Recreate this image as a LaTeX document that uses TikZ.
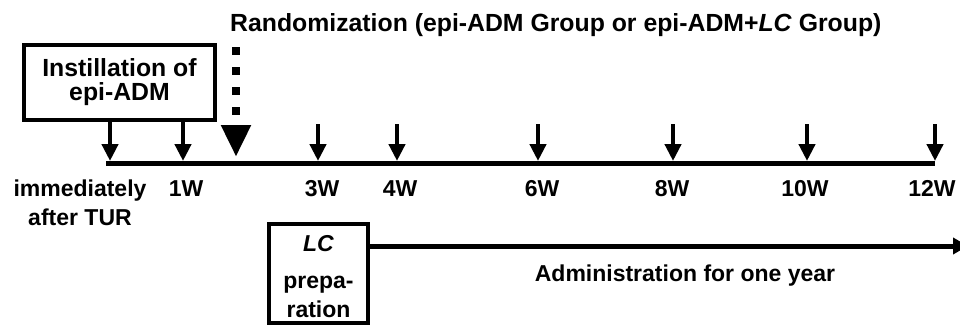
\documentclass[tikz,border=0pt]{standalone}
\usepackage{fontspec}
\setmainfont{Liberation Sans}
\usetikzlibrary{arrows.meta,positioning,calc}

\newcommand\lblfont{\fontsize{23}{25}\selectfont\bfseries}
\newcommand\bigfont{\fontsize{24.8}{24.5}\selectfont\bfseries}
\tikzset{
  lbl/.style={font=\lblfont, inner sep=0pt, align=center},
  boxnode/.style={draw, line width=4pt, lbl},
  tick/.style={line width=4.5pt, -{Triangle[width=16pt,length=17pt]}},
  randarrow/.style={line width=8pt, dash pattern=on 8pt off 12pt,
                    -{Triangle[width=28pt,length=32pt]}},
  timeline/.style={line width=5pt},
  longarrow/.style={line width=5pt, -{Triangle[width=16pt,length=15pt]}}
}

\begin{document}
\begin{tikzpicture}[x=1pt,y=-1pt]
  \useasboundingbox (0,0) rectangle (960,327);

  % title and randomisation marker
  \node[lbl, anchor=base west, font=\bigfont] (rand) at (230,31)
    {Randomization (epi-ADM Group or epi-ADM+\textit{LC} Group)};
  \coordinate (rd0) at (236,47);
  \coordinate (rd1) at (236,157);
  \draw[randarrow] (rd0) -- (rd1);

  % instillation box
  \node[boxnode, font=\bigfont, minimum width=191pt, minimum height=75pt] (instil) at (119.5,82)
    {Instillation of\\epi-ADM};

  % timeline
  \coordinate (tl0) at (106,163);
  \coordinate (tl1) at (935,163);
  \draw[timeline] (tl0) -- (tl1);

  % ticks on the timeline
  \coordinate (t0) at (110,161);
  \coordinate (t1) at (183,161);
  \coordinate (t3) at (318,161);
  \coordinate (t4) at (397,161);
  \coordinate (t6) at (538,161);
  \coordinate (t8) at (673,161);
  \coordinate (t10) at (807,161);
  \coordinate (t12) at (935,161);
  \draw[tick] (instil.south -| t0) -- (t0);
  \draw[tick] (instil.south -| t1) -- (t1);
  \draw[tick] ($(t3)+(0,-37)$) -- (t3);
  \draw[tick] ($(t4)+(0,-37)$) -- (t4);
  \draw[tick] ($(t6)+(0,-37)$) -- (t6);
  \draw[tick] ($(t8)+(0,-37)$) -- (t8);
  \draw[tick] ($(t10)+(0,-37)$) -- (t10);
  \draw[tick] ($(t12)+(0,-37)$) -- (t12);

  % week labels
  \node[lbl, anchor=base, font=\fontsize{23}{29.5}\selectfont\bfseries] (l0) at (80,225.5)
    {immediately\\after TUR};
  \node[lbl, anchor=base] (l1) at (186,196) {1W};
  \node[lbl, anchor=base] (l3) at (322,196) {3W};
  \node[lbl, anchor=base] (l4) at (400,196) {4W};
  \node[lbl, anchor=base] (l6) at (542,196) {6W};
  \node[lbl, anchor=base] (l8) at (672,196) {8W};
  \node[lbl, anchor=base] (l10) at (805,196) {10W};
  \node[lbl, anchor=base] (l12) at (932,196) {12W};

  % LC preparation and administration
  \node[boxnode, minimum width=99pt, minimum height=99pt,
        font=\fontsize{23}{29}\selectfont\bfseries] (lcprep) at (318.5,273.5)
    {\rule{0pt}{23pt}\textit{LC}\\[8pt]prepa-\\ration};
  \coordinate (adm1) at (968,246);
  \draw[longarrow] (lcprep.east |- adm1) -- (adm1);
  \node[lbl, anchor=base] (admin) at (685,281) {Administration for one year};
\end{tikzpicture}
\end{document}
